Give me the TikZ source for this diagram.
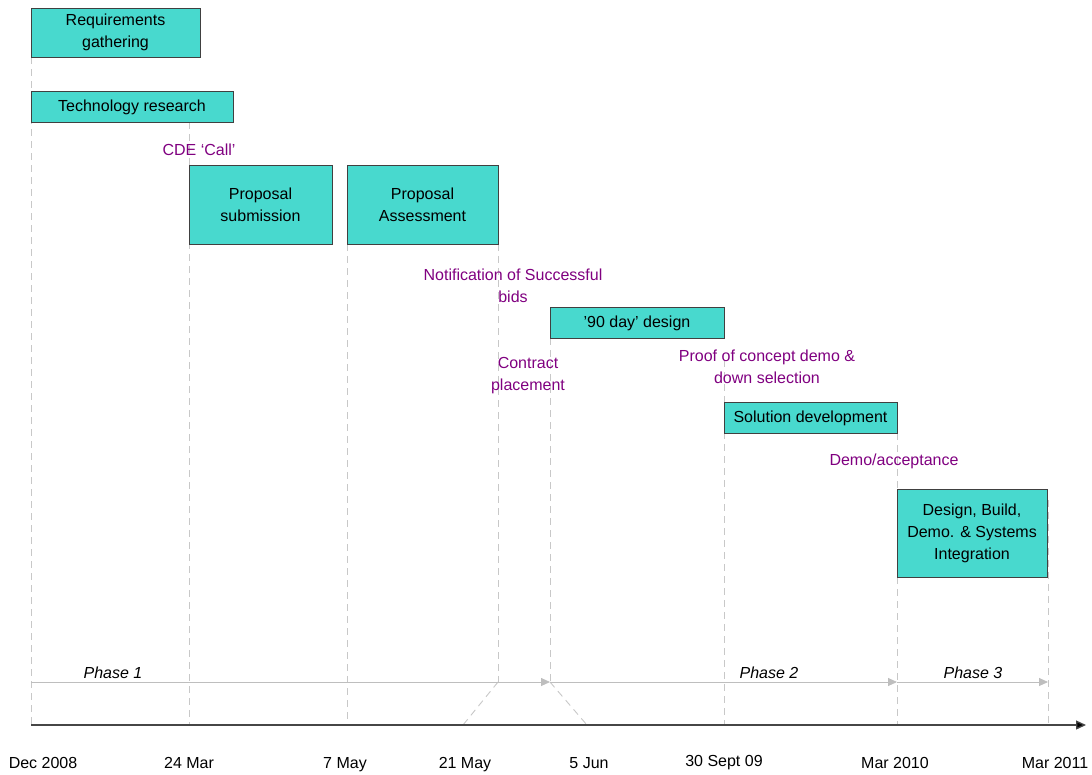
\documentclass[tikz,border=0pt]{standalone}
\usepackage{fontspec}
\setmainfont{Liberation Sans}
\usetikzlibrary{arrows.meta}
\definecolor{turq}{RGB}{72,217,206}
\definecolor{lbl}{RGB}{128,0,128}
\definecolor{guide}{RGB}{200,200,200}
\definecolor{phasec}{RGB}{190,190,190}
\definecolor{axisc}{RGB}{70,70,70}
\begin{document}
\begin{tikzpicture}[x=1pt,y=-1pt,
  box/.style={draw=black!75,fill=turq,line width=0.9pt,inner sep=0pt,align=center,
    font=\fontsize{16}{22}\selectfont},
  lab/.style={text=lbl,align=center,inner sep=0pt,font=\fontsize{16}{22}\selectfont},
  datelab/.style={inner sep=0pt,anchor=base,font=\fontsize{16}{22}\selectfont},
  phaselab/.style={inner sep=0pt,anchor=base,font=\fontsize{16}{22}\selectfont\itshape},
  guideline/.style={draw=guide,line width=0.9pt,dash pattern=on 7pt off 5pt},
  phaseline/.style={draw=phasec,line width=0.9pt,-{Triangle[length=9pt,width=8pt]}},
]
\useasboundingbox (0,0) rectangle (1092,774);

% dashed guides (drawn first, under boxes and text)
\coordinate (g1t) at (31,57);   \coordinate (g1b) at (31,725);
\coordinate (g2t) at (189,122); \coordinate (g2b) at (189,725);
\coordinate (g3t) at (347,244); \coordinate (g3b) at (347,725);
\coordinate (g4t) at (498,244); \coordinate (g4b) at (498,682);
\coordinate (g5t) at (550,338); \coordinate (g5b) at (550,682);
\coordinate (g6t) at (724,360); \coordinate (g6b) at (724,725);
\coordinate (g7t) at (897,433); \coordinate (g7b) at (897,725);
\coordinate (g8t) at (1048,500);\coordinate (g8b) at (1048,725);
\coordinate (d1) at (463,725);  \coordinate (d2) at (587,725);
\foreach \i in {1,...,8} {\path[guideline] (g\i t) -- (g\i b);}
\path[guideline] (g4b) -- (d1);
\path[guideline] (g5b) -- (d2);

% boxes
\node[box,minimum width=169pt,minimum height=49pt] (req) at (115.5,32.5) {Requirements\\gathering};
\node[box,minimum width=202pt,minimum height=31pt] (tech) at (132,107) {Technology research};
\node[box,minimum width=143pt,minimum height=79pt] (sub) at (260.5,204.5) {Proposal\\submission};
\node[box,minimum width=151pt,minimum height=79pt] (ass) at (422.5,204.5) {Proposal\\Assessment};
\node[box,minimum width=174pt,minimum height=31pt] (d90) at (637,323) {'90 day' design};
\node[box,minimum width=173pt,minimum height=31pt] (sol) at (810.5,418) {Solution development};
\node[box,minimum width=150pt,minimum height=88pt] (dbd) at (972,533) {Design, Build,\\Demo. \& Systems\\Integration};

% purple labels
\node[lab] (cde) at (199,150) {CDE ‘Call’};
\node[lab] (notif) at (513,285.5) {Notification of Successful\\bids};
\node[lab] (contr) at (528,376) {Contract\\placement};
\node[lab] (proof) at (767,366.5) {Proof of concept demo \&\\down selection};
\node[lab] (demo) at (894,461) {Demo/acceptance};

% phase lines
\coordinate (p0) at (31,682);
\coordinate (p1) at (g5b);
\coordinate (p2) at (897,682);
\coordinate (p3) at (1048,682);
\draw[phaseline] (p0) -- (p1);
\draw[phaseline] (p1) -- (p2);
\draw[phaseline] (p2) -- (p3);
\node[phaselab] (ph1) at (113,678) {Phase 1};
\node[phaselab] (ph2) at (769,678) {Phase 2};
\node[phaselab] (ph3) at (973,678) {Phase 3};

% time axis
\coordinate (a0) at (31,725);
\coordinate (a1) at (1086,725);
\draw[draw=axisc,line width=1.3pt,-{Triangle[length=10pt,width=9pt,fill=black]}] (a0) -- (a1);

% dates
\node[datelab] (t1) at (43,768) {Dec 2008};
\node[datelab] (t2) at (189,768) {24 Mar};
\node[datelab] (t3) at (345,768) {7 May};
\node[datelab] (t4) at (465,768) {21 May};
\node[datelab] (t5) at (589,768) {5 Jun};
\node[datelab] (t6) at (724,766) {30 Sept 09};
\node[datelab] (t7) at (895,768) {Mar 2010};
\node[datelab] (t8) at (1055,768) {Mar 2011};
\end{tikzpicture}
\end{document}
